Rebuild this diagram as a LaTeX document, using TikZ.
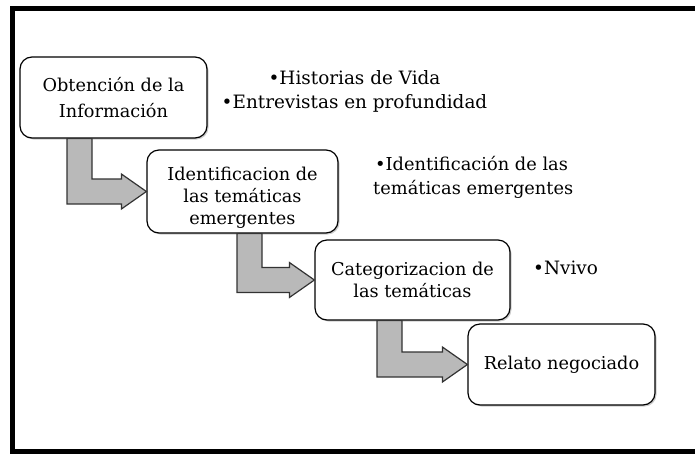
\documentclass[tikz,border=0pt]{standalone}
\usepackage{fontspec}
\setmainfont{DejaVu Serif}
\usetikzlibrary{shadows,calc}
\tikzset{
    paso/.style={
           rectangle,
           rounded corners=12pt,
           draw=black, line width=1.2pt,
           fill=white,
           drop shadow={shadow xshift=1.5pt, shadow yshift=-1.5pt, opacity=0.4},
           minimum width=187pt,
           minimum height=81pt,
           inner sep=2pt,
           align=center,
           font=\fontsize{17.7}{26}\selectfont,
           },
    nota/.style={
           inner sep=0pt,
           font=\fontsize{18.4}{24}\selectfont,
           },
    flecha/.style={
           draw=black!80, line width=1.2pt,
           fill=gray!55, line join=miter,
           },
}
% bent arrow: from the bottom of #1 to the left side of #2, shaft starting at x=#3
\newcommand{\flechaL}[3]{%
    \path[flecha] let \p1=(#1.south), \p2=(#2.west) in
        (#3pt,\y1) -- (#3pt+25pt,\y1) -- (#3pt+25pt,\y2+12.5pt)
        -- (\x2-25pt,\y2+12.5pt) -- (\x2-25pt,\y2+17.5pt) -- (\x2,\y2)
        -- (\x2-25pt,\y2-17.5pt) -- (\x2-25pt,\y2-12.5pt)
        -- (#3pt,\y2-12.5pt) -- cycle;
}

\begin{document}
\begin{tikzpicture}[x=1pt, y=-1pt]
    \useasboundingbox (0,0) rectangle (695,453);
    % frame (open on the right)
    \draw[line width=5pt] (695,8.5) -- (12.5,8.5) -- (12.5,451) -- (695,451);

    % Steps
    \node[paso] (obt) at (113.5,97.5)
        {Obtención de la\\Información};
    \node[paso, minimum width=191pt, minimum height=83pt,
        font=\fontsize{17.7}{22}\selectfont, text height=70pt] (ide) at (242.5,191.5)
        {Identificacion de\\las temáticas\\emergentes};
    \node[paso, minimum width=195pt, minimum height=80pt,
        font=\fontsize{17.7}{22}\selectfont] (cat) at (412.5,280)
        {Categorizacion de\\las temáticas};
    \node[paso] (rel) at (561.5,364.5)
        {Relato negociado};

    % notes beside the steps
    \node[nota, align=center] (hist) at (354.5,91)
        {•Historias de Vida\\•Entrevistas en profundidad};
    \node[nota, align=left, anchor=west,
        font=\fontsize{17.8}{24}\selectfont] (tem) at (373,177)
        {\hspace{2pt}•Identificación de las\\temáticas emergentes};
    \node[nota, anchor=west] (nvi) at (533,268) {•Nvivo};

    % arrows between the steps
    \flechaL{obt}{ide}{67}
    \flechaL{ide}{cat}{237}
    \flechaL{cat}{rel}{377}
\end{tikzpicture}
\end{document}
